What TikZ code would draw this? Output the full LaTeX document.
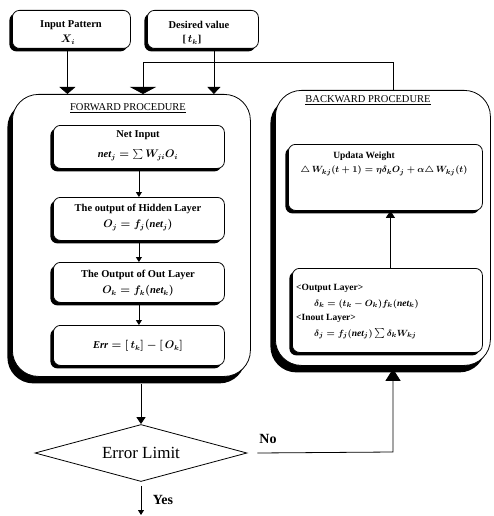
\documentclass[tikz,border=0pt]{standalone}
\usepackage{fontspec}
\setmainfont{Liberation Serif}
\usetikzlibrary{arrows.meta,shapes.geometric,shadows,calc}

\begin{document}
\begin{tikzpicture}[x=1pt,y=-1pt,
  panel/.style={draw, line width=0.8pt, fill=white, rounded corners=26pt,
    inner sep=0pt, anchor=north west,
    general shadow={fill=black, shadow xshift=-5pt, shadow yshift=-7pt}},
  card/.style={draw, line width=0.8pt, fill=white, rounded corners=7pt,
    inner sep=0pt, anchor=north west,
    general shadow={fill=black, shadow xshift=-3pt, shadow yshift=-3pt}},
  txt/.style={inner sep=0pt, font=\bfseries\boldmath\fontsize{10.5}{12}\selectfont},
  small/.style={inner sep=0pt, font=\bfseries\boldmath\fontsize{9.5}{11}\selectfont},
  title/.style={inner sep=0pt, font=\fontsize{10.5}{12}\selectfont},
  flow/.style={line width=0.8pt},
  bigtip/.style={flow, -{Triangle[width=16pt,length=7pt]}},
  desttip/.style={flow, -{Triangle[width=13pt,length=7pt]}},
  fbtip/.style={flow, -{Triangle[width=26pt,length=7pt]}},
  midtip/.style={flow, -{Triangle[width=9pt,length=7pt]}},
  uptip/.style={flow, -{Triangle[width=15pt,length=12pt]}},
  tinytip/.style={flow, -{Triangle[width=6pt,length=5pt]}},
]
\useasboundingbox (0,0) rectangle (493,516);

% top input boxes
\node[card, minimum width=118pt, minimum height=38pt] (inp) at (12,10) {};
\node[txt] at (71,25) {Input Pattern};
\node[txt] at (68,40) {$X_i$};
\node[card, minimum width=111pt, minimum height=38pt] (des) at (147,10) {};
\node[txt] at (199,25) {Desired value};
\node[txt] at (192,40) {[\,$t_k$]};

% forward procedure
\node[panel, minimum width=238pt, minimum height=282pt] (fwd) at (12,94) {};
\node[title] at (128,108) {\underline{FORWARD PROCEDURE}};

\node[card, minimum width=171pt, minimum height=43pt] (net) at (53,125) {};
\node[txt] at (138,135) {Net Input};
\node[txt] at (138,155) {$\mathit{net}_j=\sum W_{ji}O_i$};

\node[card, minimum width=171pt, minimum height=43pt] (hid) at (53,197) {};
\node[txt] at (138,209) {The output of Hidden Layer};
\node[txt] at (138,225) {$O_j=f_j(\mathit{net}_j)$};

\node[card, minimum width=171pt, minimum height=40pt] (out) at (53,262) {};
\node[txt] at (138,275) {The Output of Out Layer};
\node[txt] at (138,291) {$O_k=f_k(\mathit{net}_k)$};

\node[card, minimum width=171pt, minimum height=40pt] (err) at (53,325) {};
\node[txt] at (138,346) {$\mathit{Err}=[\,t_k]-[\,O_k]$};

\draw[tinytip] (net.south) -- (hid.north);
\draw[tinytip] (hid.south) -- (out.north);
\draw[tinytip] (out.south) -- (err.north);

% backward procedure
\node[panel, minimum width=215pt, minimum height=275pt] (bwd) at (275,90) {};
\node[title] at (368,100) {\underline{BACKWARD PROCEDURE}};

\node[card, minimum width=194pt, minimum height=66pt] (upd) at (288,144) {};
\node[small] at (364,156) {Updata Weight};
\node[small] at (384,171) {$\triangle\,W_{kj}(t+1)=\eta\delta_kO_j+\alpha\triangle\,W_{kj}(t)$};

\node[card, minimum width=190pt, minimum height=84pt] (dlt) at (292,268) {};
\node[small, anchor=west] at (296,288) {<Output Layer>};
\node[small, anchor=west] at (314,304) {$\delta_k=(t_k-O_k)f_k(\mathit{net}_k)$};
\node[small, anchor=west] at (296,318) {<Inout Layer>};
\node[small, anchor=west] at (314,334) {$\delta_j=f_j(\mathit{net}_j)\sum\delta_kW_{kj}$};

\draw[midtip] ([xshift=3pt]dlt.north) -- ([xshift=3pt]dlt.north |- upd.south);

% inputs into the forward procedure
\draw[bigtip] ([xshift=-4pt]inp.south) -- ([xshift=-4pt]inp.south |- fwd.north);
\draw[desttip] ([xshift=11pt]des.south) -- ([xshift=11pt]des.south |- fwd.north);

% updated weights fed back to the forward procedure
\coordinate (fb) at (143,62);
\draw[fbtip] ([xshift=10pt]bwd.north) |- (fb) -- (fb |- fwd.north);

% error test
\node[diamond, draw, line width=0.8pt, aspect=3.7, minimum width=212pt,
  minimum height=57pt, inner sep=0pt, font=\fontsize{17}{20}\selectfont]
  (lim) at (141,453) {Error Limit};
\draw[midtip] ([yshift=-7pt]fwd.south -| lim.north) -- (lim.north);

\coordinate (stop) at (141,515);
\draw[tinytip] ([yshift=-4pt]lim.south) -- (stop);
\node[inner sep=0pt, font=\bfseries\fontsize{14}{16}\selectfont] at (163,500) {Yes};

\coordinate (turn) at (393,452);
\draw[uptip] ([xshift=10pt]lim.east) -- (turn) -- ([yshift=-3pt]turn |- bwd.south);
\node[inner sep=0pt, font=\bfseries\fontsize{14}{16}\selectfont] at (268,439) {No};
\end{tikzpicture}
\end{document}
